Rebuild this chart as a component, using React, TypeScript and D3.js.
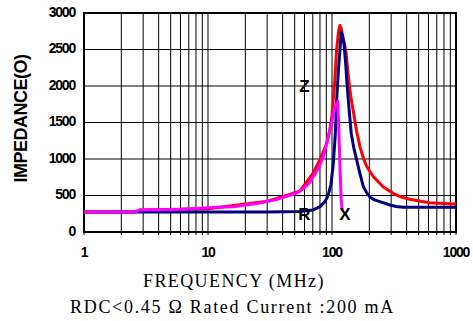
import React from "react";
import * as d3 from "d3";

const yTicks = [0, 500, 1000, 1500, 2000, 2500, 3000];
const xTicks = [1, 10, 100, 1000];

const zFreq = [1, 2.6, 2.8, 10, 30, 55, 70, 80, 90, 96, 100, 105, 109, 113, 116, 119, 123, 127, 130, 136, 142, 148, 158, 168, 180, 190, 215, 258, 311, 360, 424, 520, 612, 800, 1000];
const zVals = [275, 275, 300, 320, 420, 560, 800, 990, 1200, 1400, 1600, 2050, 2500, 2750, 2830, 2780, 2650, 2550, 2450, 2100, 1850, 1670, 1380, 1170, 1000, 900, 760, 620, 530, 480, 448, 420, 400, 390, 383];

const rFreq = [1, 10, 30, 55, 70, 80, 88, 93, 98, 102, 106, 109, 113, 116, 118.6, 121, 125, 129, 132, 137, 143, 150, 158, 168, 179, 190, 202, 220, 243, 270, 293, 330, 376, 500, 700, 1000];
const rVals = [275, 275, 275, 280, 300, 347, 420, 500, 650, 900, 1300, 1800, 2250, 2500, 2740, 2700, 2580, 2300, 2040, 1700, 1350, 1150, 990, 800, 620, 540, 480, 440, 415, 390, 370, 350, 338, 338, 338, 338];

const xFreq = [1, 2.6, 2.8, 4, 6, 8.6, 12, 16, 20, 25, 30, 35, 40, 45, 50, 55, 60, 66, 72, 78, 85, 92, 98, 104, 108, 111, 113, 116, 118.5, 121];
const xVals = [275, 275, 300, 305, 310, 325, 340, 345, 370, 390, 420, 440, 470, 500, 520, 560, 610, 680, 780, 880, 1030, 1250, 1450, 1680, 1760, 1790, 1500, 900, 450, 290];

const curveLabels = [
  { t: "Z", f: 60, v: 1980 },
  { t: "R", f: 60, v: 230 },
  { t: "X", f: 127, v: 230 },
];

export default function App() {
  const L = 84, R = 456, T = 13, B = 232;
  const x = d3.scaleLog().domain([1, 1000]).range([L, R]);
  const y = d3.scaleLinear().domain([0, 3000]).range([B, T]);

  const grid: number[] = [];
  for (let d = 1; d < 1000; d *= 10) {
    for (let k = 1; k < 10; k++) grid.push(d * k);
  }
  grid.push(1000);

  const line = (fs: number[], vs: number[]) =>
    d3.line<number>().x((_, i) => x(fs[i])).y((v) => y(v))(vs) || "";

  const sans = "Liberation Sans, Arial, sans-serif";
  const serif = "Liberation Serif, Times New Roman, serif";

  return (
    <svg width={473} height={321} style={{ position: "absolute", left: 0, top: 0, background: "#fff" }}>
      <rect x={0} y={0} width={473} height={321} fill="#fff" />
      {grid.map((g, i) => (
        <g key={"v" + i}>
          <line x1={x(g)} x2={x(g)} y1={T} y2={B} stroke="#000" strokeWidth={1} />
          <line x1={x(g)} x2={x(g)} y1={B} y2={B + 3} stroke="#000" strokeWidth={1} />
        </g>
      ))}
      {yTicks.map((t) => (
        <line key={"h" + t} x1={L} x2={R} y1={y(t)} y2={y(t)} stroke="#000" strokeWidth={1} />
      ))}
      <rect x={L} y={T} width={R - L} height={B - T} fill="none" stroke="#000" strokeWidth={2} />

      <path d={line(zFreq, zVals)} fill="none" stroke="#ff0000" strokeWidth={3} strokeLinejoin="round" />
      <path d={line(rFreq, rVals)} fill="none" stroke="#000080" strokeWidth={3} strokeLinejoin="round" />
      <path d={line(xFreq, xVals)} fill="none" stroke="#ff00ff" strokeWidth={3} strokeLinejoin="round" />

      {curveLabels.map((c) => (
        <text key={c.t} x={x(c.f)} y={y(c.v)} fontFamily={sans} fontWeight="bold" fontSize={17} textAnchor="middle" dominantBaseline="middle">
          {c.t}
        </text>
      ))}

      {yTicks.map((t) => (
        <text key={"yl" + t} x={75} y={y(t)} textAnchor="end" dominantBaseline="middle" fontFamily={sans} fontWeight="bold" fontSize={14} letterSpacing={-1.2}>
          {t}
        </text>
      ))}
      {xTicks.map((t) => (
        <text key={"xl" + t} x={x(t)} y={253} textAnchor="middle" dominantBaseline="middle" fontFamily={sans} fontWeight="bold" fontSize={14} letterSpacing={-1.2}>
          {t}
        </text>
      ))}
      <text transform={`translate(22,${(T + B) / 2 - 4}) rotate(-90)`} textAnchor="middle" dominantBaseline="middle" fontFamily={sans} fontWeight="bold" fontSize={18} letterSpacing={-0.5}>
        IMPEDANCE(O)
      </text>
      <text x={143} y={283} textAnchor="start" dominantBaseline="middle" fontFamily={serif} fontSize={18} letterSpacing={1.4}>
        FREQUENCY (MHz)
      </text>
      <text x={70} y={309} textAnchor="start" dominantBaseline="middle" fontFamily={serif} fontSize={18} letterSpacing={1.7}>
        RDC&lt;0.45 Ω Rated Current :200 mA
      </text>
    </svg>
  );
}
